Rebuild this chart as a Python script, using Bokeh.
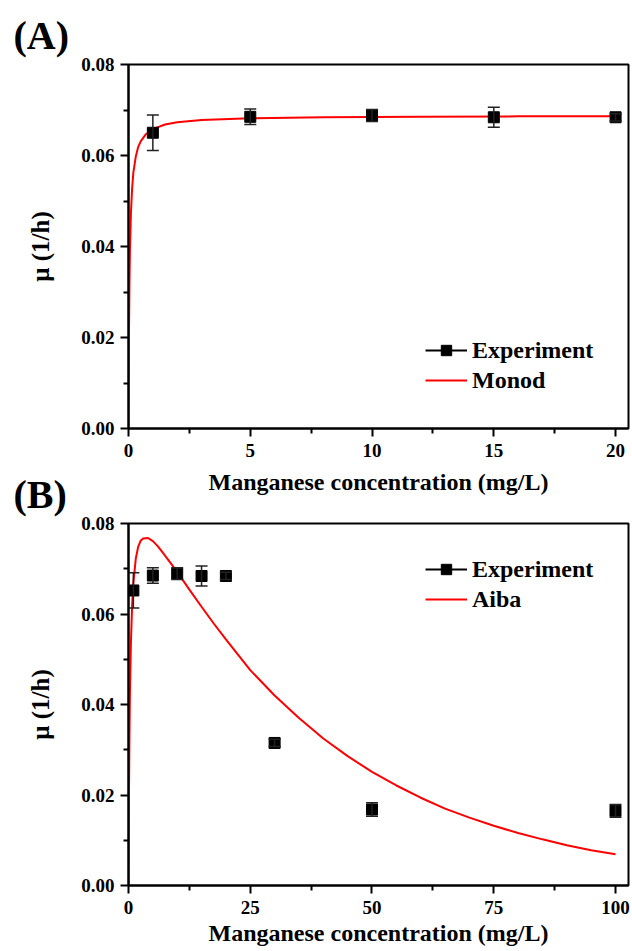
from bokeh.plotting import figure
from bokeh.models import (Range1d, Whisker, ColumnDataSource, Legend, LegendItem,
                          TeeHead, FixedTicker, NumeralTickFormatter)
from bokeh.layouts import column
from bokeh.embed import file_html
from bokeh.resources import INLINE

# ---------------- data ----------------
conc_a = [1, 5, 10, 15, 20]
mu_a = [0.0650, 0.0685, 0.0688, 0.0684, 0.0684]
err_a = [0.0039, 0.0017, 0.0013, 0.0022, 0.0008]

conc_b = [1, 5, 10, 15, 20, 30, 50, 100]
mu_b = [0.0652, 0.0685, 0.0689, 0.0684, 0.0684, 0.0315, 0.0168, 0.0165]
err_b = [0.0039, 0.0017, 0.0013, 0.0022, 0.0008, 0.0008, 0.0015, 0.0014]

monod_s = [0, 0.01, 0.02, 0.04, 0.06, 0.1, 0.15, 0.2, 0.3, 0.4, 0.5, 0.7,
           1.0, 1.5, 2.0, 3.0, 5.0, 8.0, 12.0, 16.0, 20.0]
monod_mu = [0, 0.0125, 0.0210, 0.0324, 0.0393, 0.0474, 0.0529, 0.0563, 0.0598,
            0.0619, 0.0631, 0.0646, 0.0658, 0.0668, 0.0673, 0.0678, 0.0682,
            0.0684, 0.0685, 0.0686, 0.0686]

aiba_s = [0, 0.05, 0.1, 0.2, 0.3, 0.5, 0.75, 1.0, 1.5, 2.0, 2.5, 3.0, 4.0, 5.0,
          6.0, 7.0, 8.0, 10, 12.5, 15, 17.5, 20, 25, 30, 35, 40, 45, 50, 55,
          60, 65, 70, 75, 80, 85, 90, 95, 100]
aiba_mu = [0, 0.0116, 0.0206, 0.0337, 0.0428, 0.0538, 0.0620, 0.0669, 0.0723,
           0.0749, 0.0762, 0.0767, 0.0768, 0.0761, 0.0750, 0.0736, 0.0722,
           0.0693, 0.0654, 0.0616, 0.0579, 0.0544, 0.0476, 0.0420, 0.0370,
           0.0325, 0.0286, 0.0251, 0.0221, 0.0194, 0.0170, 0.0150, 0.0132,
           0.0116, 0.0102, 0.0089, 0.0078, 0.0069]

x_ticks_a = [0, 5, 10, 15, 20]
x_minor_a = [2.5, 7.5, 12.5, 17.5]
x_ticks_b = [0, 25, 50, 75, 100]
x_minor_b = [12.5, 37.5, 62.5, 87.5]
y_ticks = [0, 0.02, 0.04, 0.06, 0.08]
y_minor = [0.01, 0.03, 0.05, 0.07]

FONT = "Liberation Serif"
W = 632


def make_panel(conc, mu, err, cs, cmu, model_name, xr, xt, xm, height,
               top, bottom, legend_y, xlab_standoff, panel_letter):
    p = figure(width=W, height=height, output_backend="svg", toolbar_location=None,
               x_range=Range1d(*xr), y_range=Range1d(0, 0.08),
               min_border_left=128, min_border_right=4,
               min_border_top=top, min_border_bottom=bottom)
    p.xgrid.visible = False
    p.ygrid.visible = False
    p.outline_line_color = "black"
    p.outline_line_width = 2
    p.background_fill_color = "white"
    p.border_fill_alpha = 0

    for ax in (p.xaxis[0], p.yaxis[0]):
        ax.axis_line_width = 2
        ax.major_tick_line_width = 2
        ax.minor_tick_line_width = 2
        ax.major_tick_out = 8
        ax.major_tick_in = 0
        ax.minor_tick_out = 5
        ax.minor_tick_in = 0
        ax.major_label_text_font = FONT
        ax.major_label_text_font_style = "bold"
        ax.major_label_text_font_size = "19px"
        ax.major_label_text_color = "black"
        ax.axis_label_text_font = FONT
        ax.axis_label_text_font_style = "bold"
        ax.axis_label_text_color = "black"

    p.xaxis[0].axis_label_text_font_size = "24px"
    p.yaxis[0].axis_label_text_font_size = "25px"
    p.xaxis[0].ticker = FixedTicker(ticks=xt, minor_ticks=xm)
    p.yaxis[0].ticker = FixedTicker(ticks=y_ticks, minor_ticks=y_minor)
    p.yaxis[0].formatter = NumeralTickFormatter(format="0.00")
    p.xaxis[0].axis_label = "Manganese concentration (mg/L)"
    p.yaxis[0].axis_label = "\u03bc (1/h)"
    p.xaxis[0].major_label_standoff = 7
    p.yaxis[0].major_label_standoff = 6
    p.xaxis[0].axis_label_standoff = xlab_standoff
    p.yaxis[0].axis_label_standoff = 24

    src = ColumnDataSource(dict(x=conc, y=mu,
                                upper=[m + e for m, e in zip(mu, err)],
                                lower=[m - e for m, e in zip(mu, err)]))
    wk = Whisker(base="x", upper="upper", lower="lower", source=src,
                 line_color="#222222", line_width=1.5, level="glyph",
                 upper_head=TeeHead(size=12, line_width=1.5, line_color="#222222"),
                 lower_head=TeeHead(size=12, line_width=1.5, line_color="#222222"))
    p.add_layout(wk)

    curve = p.line(cs, cmu, line_color="#ff0000", line_width=2)
    sq = p.scatter("x", "y", source=src, marker="square", size=11,
                   fill_color="black", line_color="black")
    # hidden renderer used only for the legend's line sample
    leg_line = p.line("x", "y", source=src, line_color="black", line_width=2,
                      visible=False)

    legend = Legend(items=[LegendItem(label="Experiment", renderers=[leg_line, sq]),
                           LegendItem(label=model_name, renderers=[curve])],
                    location=(297, legend_y), orientation="vertical",
                    glyph_width=42, glyph_height=26, label_height=30,
                    label_standoff=5, spacing=0, padding=0, margin=0,
                    border_line_color=None, background_fill_alpha=0,
                    inactive_fill_alpha=0,
                    label_text_font=FONT, label_text_font_style="bold",
                    label_text_font_size="24px", label_text_color="black")
    p.add_layout(legend, "center")

    # panel letter as a left-aligned title above the frame
    p.title.text = panel_letter
    p.title.align = "left"
    p.title.offset = -115
    p.title.standoff = 14
    p.title.text_font = FONT
    p.title.text_font_style = "bold"
    p.title.text_font_size = "40px"
    p.title.text_color = "black"
    return p


pa = make_panel(conc_a, mu_a, err_a, monod_s, monod_mu, "Monod",
                (0, 20.53), x_ticks_a, x_minor_a, 500, 64, 72, 33, 9, "(A)")
pb = make_panel(conc_b, mu_b, err_b, aiba_s, aiba_mu, "Aiba",
                (0, 102.67), x_ticks_b, x_minor_b, 489, 60, 66, 271, 3, "(B)")
# pull panel (B) up so that its letter sits beside the axis title of (A)
pb.margin = (-38, 0, 0, 0)

layout = column(pa, pb, spacing=0)
open("out.html", "w").write(file_html(layout, INLINE))
